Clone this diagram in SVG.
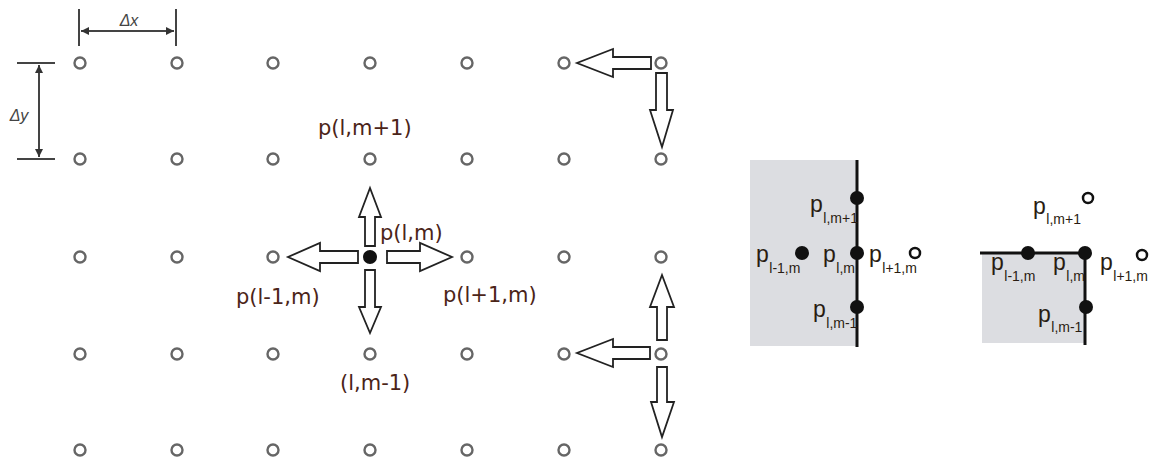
<svg xmlns="http://www.w3.org/2000/svg" width="1153" height="464" viewBox="0 0 1153 464">
<style>
.pt{fill:none;stroke:#666;stroke-width:2.4}
.dot{fill:#111}
.ring{fill:#fff;stroke:#111;stroke-width:2.5}
.blk{fill:#fff;stroke:#222;stroke-width:1.8;stroke-linejoin:miter}
.dim{stroke:#444;stroke-width:2;fill:none}
.lbl{font-family:"DejaVu Sans",sans-serif;font-size:21px;fill:#4b2418}
.dl{font-family:"Liberation Sans",sans-serif;font-style:italic;font-size:16px;fill:#444}
.pp{font-family:"Liberation Sans",sans-serif;font-size:23px;fill:#2a1c12}
.sb{font-size:14px}
.ln{stroke:#111;stroke-width:3;fill:none}
.pan{fill:#dcdde1}
</style>
<defs>
<marker id="ah" viewBox="0 0 10 10" refX="10" refY="5" markerWidth="8" markerHeight="8" markerUnits="userSpaceOnUse" orient="auto-start-reverse">
<path d="M0,0 L10,5 L0,10 z" fill="#333"/>
</marker>
</defs>

<g id="dimensions">
<line class="dim" x1="79" y1="9" x2="79" y2="46"/>
<line class="dim" x1="176" y1="9" x2="176" y2="46"/>
<line class="dim" x1="81" y1="31" x2="174" y2="31" marker-start="url(#ah)" marker-end="url(#ah)"/>
<text class="dl" x="129" y="26" text-anchor="middle">Δx</text>
<line class="dim" x1="17" y1="63" x2="55" y2="63"/>
<line class="dim" x1="17" y1="159" x2="55" y2="159"/>
<line class="dim" x1="39" y1="65" x2="39" y2="157" marker-start="url(#ah)" marker-end="url(#ah)"/>
<text class="dl" x="19" y="121" text-anchor="middle">Δy</text>
</g>

<g id="grid">
<g id="n-0-0"><circle class="pt" cx="80" cy="63" r="5.5"/></g>
<g id="n-1-0"><circle class="pt" cx="177" cy="63" r="5.5"/></g>
<g id="n-2-0"><circle class="pt" cx="273" cy="63" r="5.5"/></g>
<g id="n-3-0"><circle class="pt" cx="370" cy="63" r="5.5"/></g>
<g id="n-4-0"><circle class="pt" cx="467" cy="63" r="5.5"/></g>
<g id="n-5-0"><circle class="pt" cx="564" cy="63" r="5.5"/></g>
<g id="n-6-0"><circle class="pt" cx="661" cy="63" r="5.5"/></g>
<g id="n-0-1"><circle class="pt" cx="80" cy="159" r="5.5"/></g>
<g id="n-1-1"><circle class="pt" cx="177" cy="159" r="5.5"/></g>
<g id="n-2-1"><circle class="pt" cx="273" cy="159" r="5.5"/></g>
<g id="n-3-1"><circle class="pt" cx="370" cy="159" r="5.5"/></g>
<g id="n-4-1"><circle class="pt" cx="467" cy="159" r="5.5"/></g>
<g id="n-5-1"><circle class="pt" cx="564" cy="159" r="5.5"/></g>
<g id="n-6-1"><circle class="pt" cx="661" cy="159" r="5.5"/></g>
<g id="n-0-2"><circle class="pt" cx="80" cy="257" r="5.5"/></g>
<g id="n-1-2"><circle class="pt" cx="177" cy="257" r="5.5"/></g>
<g id="n-2-2"><circle class="pt" cx="273" cy="257" r="5.5"/></g>
<g id="n-3-2"><circle class="dot" cx="370" cy="257" r="7"/></g>
<g id="n-4-2"><circle class="pt" cx="467" cy="257" r="5.5"/></g>
<g id="n-5-2"><circle class="pt" cx="564" cy="257" r="5.5"/></g>
<g id="n-6-2"><circle class="pt" cx="661" cy="257" r="5.5"/></g>
<g id="n-0-3"><circle class="pt" cx="80" cy="354" r="5.5"/></g>
<g id="n-1-3"><circle class="pt" cx="177" cy="354" r="5.5"/></g>
<g id="n-2-3"><circle class="pt" cx="273" cy="354" r="5.5"/></g>
<g id="n-3-3"><circle class="pt" cx="370" cy="354" r="5.5"/></g>
<g id="n-4-3"><circle class="pt" cx="467" cy="354" r="5.5"/></g>
<g id="n-5-3"><circle class="pt" cx="564" cy="354" r="5.5"/></g>
<g id="n-6-3"><circle class="pt" cx="661" cy="354" r="5.5"/></g>
<g id="n-0-4"><circle class="pt" cx="80" cy="450" r="5.5"/></g>
<g id="n-1-4"><circle class="pt" cx="177" cy="450" r="5.5"/></g>
<g id="n-2-4"><circle class="pt" cx="273" cy="450" r="5.5"/></g>
<g id="n-3-4"><circle class="pt" cx="370" cy="450" r="5.5"/></g>
<g id="n-4-4"><circle class="pt" cx="467" cy="450" r="5.5"/></g>
<g id="n-5-4"><circle class="pt" cx="564" cy="450" r="5.5"/></g>
<g id="n-6-4"><circle class="pt" cx="661" cy="450" r="5.5"/></g>
</g>

<g id="connectors">
<polygon class="blk" points="365,246 375,246 375,217 381,217 370,188 359,217 365,217"/>
<polygon class="blk" points="358,251 358,263 320,263 320,271 288,257 320,243 320,251"/>
<polygon class="blk" points="387,251 420,251 420,243 452,257 420,271 420,263 387,263"/>
<polygon class="blk" points="365,270 375,270 375,307 381,307 370,333 359,307 365,307"/>
<polygon class="blk" points="651,57 651,69 613,69 613,77 577,63 613,49 613,57"/>
<polygon class="blk" points="656,73 667,73 667,110 673,110 662,147 650,110 656,110"/>
<polygon class="blk" points="657,340 667,340 667,307 674,307 662,275 650,307 657,307"/>
<polygon class="blk" points="650,347 650,359 613,359 613,367 577,353 613,339 613,347"/>
<polygon class="blk" points="657,367 667,367 667,402 674,402 662,437 651,402 657,402"/>
</g>

<g id="labels">
<text class="lbl" x="318" y="135">p(l,m+1)</text>
<text class="lbl" x="380" y="240">p(l,m)</text>
<text class="lbl" x="236" y="304">p(l-1,m)</text>
<text class="lbl" x="443" y="302">p(l+1,m)</text>
<text class="lbl" x="340" y="390">(l,m-1)</text>
</g>

<g id="panel1">
<rect class="pan" x="750" y="160" width="107" height="186"/>
<line class="ln" x1="857" y1="160" x2="857" y2="347"/>
<circle class="dot" cx="857" cy="198" r="7"/>
<circle class="dot" cx="857" cy="253" r="7"/>
<circle class="dot" cx="857" cy="307" r="7"/>
<circle class="dot" cx="802" cy="253" r="7"/>
<circle class="ring" cx="915" cy="253" r="5"/>
<text class="pp" x="810" y="212">p<tspan class="sb" dx="0.5" dy="11">l,m+1</tspan></text>
<text class="pp" x="756" y="262">p<tspan class="sb" dx="0.5" dy="11">l-1,m</tspan></text>
<text class="pp" x="823" y="262">p<tspan class="sb" dx="0.5" dy="11">l,m</tspan></text>
<text class="pp" x="869" y="262">p<tspan class="sb" dx="0.5" dy="11">l+1,m</tspan></text>
<text class="pp" x="813" y="317">p<tspan class="sb" dx="0.5" dy="11">l,m-1</tspan></text>
</g>

<g id="panel2">
<rect class="pan" x="982" y="253" width="103" height="90"/>
<line class="ln" x1="980" y1="253" x2="1086" y2="253"/>
<line class="ln" x1="1085" y1="252" x2="1085" y2="345"/>
<circle class="dot" cx="1028" cy="253" r="7"/>
<circle class="dot" cx="1085" cy="253" r="7"/>
<circle class="dot" cx="1086" cy="307" r="7"/>
<circle class="ring" cx="1088" cy="198" r="5"/>
<circle class="ring" cx="1142" cy="255" r="5"/>
<text class="pp" x="1033" y="214">p<tspan class="sb" dx="0.5" dy="10">l,m+1</tspan></text>
<text class="pp" x="991" y="270">p<tspan class="sb" dx="0.5" dy="11">l-1,m</tspan></text>
<text class="pp" x="1053" y="270">p<tspan class="sb" dx="0.5" dy="11">l,m</tspan></text>
<text class="pp" x="1100" y="270">p<tspan class="sb" dx="0.5" dy="11">l+1,m</tspan></text>
<text class="pp" x="1038" y="322">p<tspan class="sb" dx="0.5" dy="10">l,m-1</tspan></text>
</g>
</svg>
